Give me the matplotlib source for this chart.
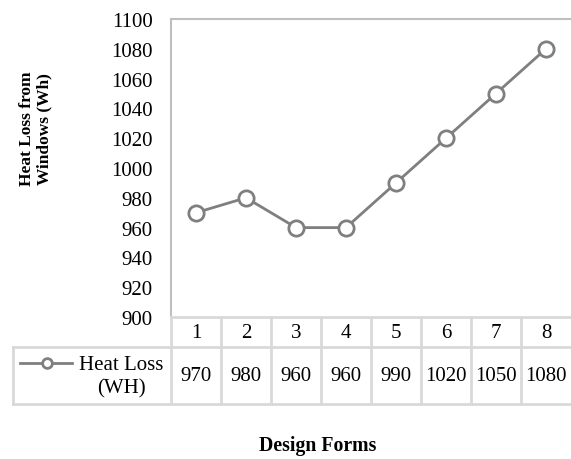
import matplotlib.pyplot as plt
import numpy as np

plt.rcParams["font.family"] = ["Liberation Serif", "DejaVu Serif"]

W, H = 571, 460

forms = ["1", "2", "3", "4", "5", "6", "7", "8"]
heat_loss = [970, 980, 960, 960, 990, 1020, 1050, 1080]
yticks = list(range(900, 1101, 20))
series_name = "Heat Loss\n(WH)"

LINE = "#7f7f7f"
GRID = "#d9d9d9"
FRAME = "#bfbfbf"
FS = 15        # ticks and table

fig = plt.figure(figsize=(W / 100, H / 100), dpi=100)

# plot area in pixel terms: x 171..571, y 20..318
ax = fig.add_axes([171 / W, (H - 318) / H, 400 / W, 298 / H])
x = np.arange(1, len(forms) + 1)
ax.plot(x, heat_loss, color=LINE, lw=2, marker="o", ms=11,
        mfc="white", mec=LINE, mew=2, clip_on=False, zorder=3)
ax.set_xlim(0.5, len(forms) + 0.5)
ax.set_ylim(900, 1100)
ax.set_yticks(yticks)
ax.set_yticklabels([str(v) for v in yticks], fontsize=FS)
ax.tick_params(axis="y", length=0, pad=13)
ax.set_xticks([])
for side in ["right", "bottom"]:
    ax.spines[side].set_visible(False)
for side in ["left", "top"]:
    ax.spines[side].set_color(FRAME)
    ax.spines[side].set_linewidth(1.5)

# data table below the plot: rows 318..348 and 348..405
tab = fig.add_axes([171 / W, (H - 405) / H, 400 / W, 87 / H])
tab.set_xlim(0.5, len(forms) + 0.5)
tab.set_ylim(87, 0)
tab.axis("off")

def px(p):
    return 0.5 + (p - 171) / 50

kw = dict(color=GRID, lw=2, clip_on=False)
tab.plot([0.5, len(forms) + 0.5], [0, 0], **kw)
tab.plot([px(13), len(forms) + 0.5], [30, 30], **kw)
tab.plot([px(13), len(forms) + 0.5], [87, 87], **kw)
tab.plot([px(13), px(13)], [30, 87], **kw)
for b in np.arange(0.5, len(forms) + 0.5, 1):
    tab.plot([b, b], [0, 87], **kw)

for xi, lab, val in zip(x, forms, heat_loss):
    tab.text(xi, 15, lab, ha="center", va="center", fontsize=FS)
    tab.text(xi, 59, str(val), ha="center", va="center", fontsize=FS)

# legend key inside the table, level with the first line of the name
tab.plot([px(20), px(72)], [46, 46], color=LINE, lw=2, clip_on=False)
tab.plot([px(47)], [46], marker="o", ms=7, mfc="white", mec=LINE, mew=2,
         clip_on=False)
tab.text(px(121), 59.5, series_name, ha="center", va="center", fontsize=FS,
         linespacing=1.3)

fig.text(36 / W, 1 - 129 / H, "Heat Loss from\nWindows (Wh)", rotation=90,
         ha="center", va="center", fontsize=12.5, fontweight="bold",
         linespacing=1.1)
fig.text(318 / W, 1 - 446 / H, "Design Forms", ha="center", va="center",
         fontsize=14.2, fontweight="bold")

fig.savefig("out.png", dpi=100)
